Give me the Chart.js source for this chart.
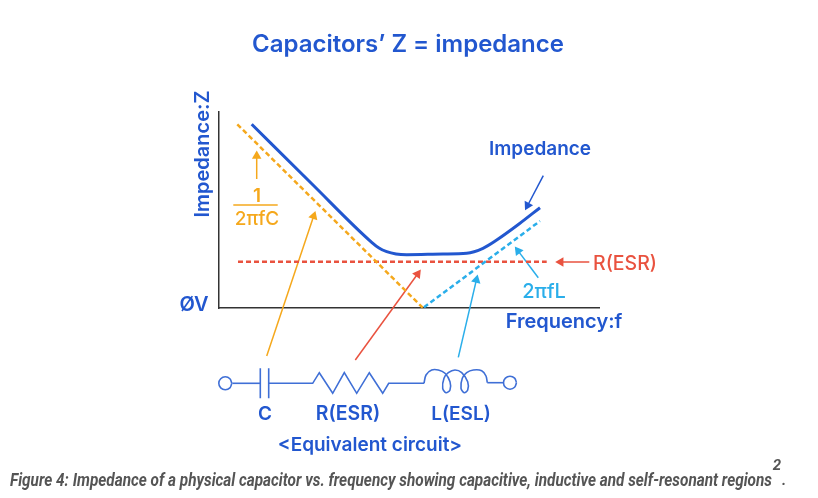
<!DOCTYPE html>
<html>
<head>
<meta charset="utf-8">
<style>
  html, body { margin: 0; padding: 0; background: #fff; }
  canvas { display: block; }
</style>
<script src="https://cdn.jsdelivr.net/npm/chart.js@4/dist/chart.umd.min.js"></script>
</head>
<body>
<canvas id="chart" width="818" height="498"></canvas>
<script>
// all series are [frequency, impedance] in axis units
const impedanceCurve = [[32.7,183.7],[92,125],[152.7,65.7],[160,60],[167.7,56.3],[177,54],[187.7,53.3],[224,54],[247.7,54.7],[264,59.7],[277.7,68],[300,84],[321,100.3]];
const capacitive = [[18.3,183.7],[203.7,0.3]];
const inductive = [[205,0.7],[321,87]];
const esr = [[19,46.2],[327.7,46.2]];
const fractionBar = [[14.3,103],[58.7,103]];

const arrowCap = [[37.7,129],[37.7,152]];
const arrowCapLong = [[47.7,-48],[94.7,91.9]];
const arrowEsr = [[136.3,-52],[198.6,34]];
const arrowInd = [[239.3,-49.3],[257.4,28.1]];
const arrowImp = [[324.3,132.3],[308.6,102.5]];
const arrowEsrSide = [[370.3,46],[341.7,46]];
const arrowIndSide = [[319.3,30.3],[299.1,57.1]];

const wireLeft = [[13.3,-75.3],[41,-75.3]];
const plateA = [[41.3,-60.3],[41.3,-90.3]];
const plateB = [[49.7,-60.3],[49.7,-90.3]];
const resistor = [[49.7,-75.3],[93.7,-75.3],[100.3,-64.7],[113.7,-85.3],[125.3,-64.7],[137.7,-85.3],[150.3,-64.7],[163.7,-85.3],[169.7,-75.3],[205,-75.3]];
const inductor = [[205,-75.3],[207,-67],[212.7,-62],[219.3,-62],[226,-65.3],[231,-73.7],[231,-82],[227,-84.7],[223.7,-80.3],[225,-70.3],[229.3,-64.7],[236,-62],[242.7,-64.7],[248.7,-73.7],[248.7,-82],[245.3,-84.7],[242,-80.3],[243.3,-70.3],[247.7,-64.7],[254.3,-62],[262.7,-62.7],[267,-68],[268.3,-74.7]];
const wireRight = [[268.3,-74.7],[284.3,-74.7]];
const terminalLeft = [[12.8,-75.3],[10.9,-70.7],[6.3,-68.8],[1.7,-70.7],[-0.2,-75.3],[1.7,-79.9],[6.3,-81.8],[10.9,-79.9],[12.8,-75.3]];
const terminalRight = [[297.5,-74.7],[295.6,-70.1],[291,-68.2],[286.4,-70.1],[284.5,-74.7],[286.4,-79.3],[291,-81.2],[295.6,-79.3],[297.5,-74.7]];

const BLUE = '#2257cf';
const ORANGE = '#f5a81c';
const RED = '#e9523f';
const CYAN = '#2aaeea';
const WIRE = '#3f6fd6';
const FONT = 'Inter, "Noto Sans", sans-serif';

function toXY(pairs) {
  return pairs.map(p => ({ x: p[0], y: p[1] }));
}

function line(pairs, color, width, extra) {
  return Object.assign({
    data: toXY(pairs),
    borderColor: color,
    backgroundColor: color,
    borderWidth: width,
    pointRadius: 0,
    fill: false,
    clip: false,
    order: 1
  }, extra || {});
}

function arrow(pairs, color) {
  const dx = pairs[1][0] - pairs[0][0];
  const dy = pairs[1][1] - pairs[0][1];
  return line(pairs, color, 1.5, {
    pointStyle: 'triangle',
    pointRadius: [0, 5.5],
    pointBorderWidth: 0,
    pointRotation: Math.atan2(dx, dy) * 180 / Math.PI
  });
}

const labels = [
  { text: 'Capacitors\u2019 Z = impedance', x: 408, y: 45, font: '600 24px ' + FONT, color: BLUE },
  { text: 'Impedance:Z', x: 203, y: 154, font: '600 20px ' + FONT, color: BLUE, rotate: -90 },
  { text: '\u00D8V', x: 194, y: 305, font: '600 20px ' + FONT, color: BLUE },
  { text: 'Frequency:f', x: 564, y: 322, font: '600 20px ' + FONT, color: BLUE },
  { text: 'Impedance', x: 540, y: 149, font: '600 19px ' + FONT, color: BLUE },
  { text: '1', x: 257, y: 196, font: '600 19px ' + FONT, color: ORANGE },
  { text: '2\u03C0fC', x: 257, y: 219, font: '500 19px ' + FONT, color: ORANGE },
  { text: 'R(ESR)', x: 625, y: 264, font: '500 19.5px ' + FONT, color: RED },
  { text: '2\u03C0fL', x: 544, y: 292, font: '500 20px ' + FONT, color: CYAN },
  { text: 'C', x: 265, y: 414, font: '600 19px ' + FONT, color: BLUE },
  { text: 'R(ESR)', x: 348, y: 414, font: '600 19.5px ' + FONT, color: BLUE },
  { text: 'L(ESL)', x: 461, y: 414, font: '600 19px ' + FONT, color: BLUE },
  { text: '<Equivalent circuit>', x: 370, y: 445, font: '600 19px ' + FONT, color: BLUE },
  { text: 'Figure 4: Impedance of a physical capacitor vs. frequency showing capacitive, inductive and self-resonant regions', x: 10, y: 481, font: 'italic 700 18px Roboto', color: '#555', align: 'left', maxWidth: 762 },
  { text: '2', x: 777, y: 466, font: 'italic 700 15px Roboto', color: '#555' },
  { text: '.', x: 784, y: 481, font: 'italic 700 15px Roboto', color: '#555' }
];

const textPlugin = {
  id: 'textLabels',
  afterDraw(chart) {
    const ctx = chart.ctx;
    labels.forEach(l => {
      ctx.save();
      ctx.translate(l.x, l.y);
      if (l.rotate) ctx.rotate(l.rotate * Math.PI / 180);
      ctx.font = l.font;
      ctx.fillStyle = l.color;
      ctx.textAlign = l.align || 'center';
      ctx.textBaseline = 'middle';
      if (l.maxWidth) ctx.fillText(l.text, 0, 0, l.maxWidth);
      else ctx.fillText(l.text, 0, 0);
      ctx.restore();
    });
  }
};

new Chart(document.getElementById('chart'), {
  type: 'line',
  data: {
    datasets: [
      line(capacitive, ORANGE, 2.5, { borderDash: [5, 3] }),
      line(inductive, CYAN, 2.5, { borderDash: [5, 3] }),
      line(esr, RED, 2.5, { borderDash: [5, 3] }),
      line(impedanceCurve, BLUE, 3, { cubicInterpolationMode: 'monotone' }),
      line(fractionBar, ORANGE, 1.5),
      arrow(arrowCap, ORANGE),
      arrow(arrowCapLong, ORANGE),
      arrow(arrowEsr, RED),
      arrow(arrowInd, CYAN),
      arrow(arrowImp, BLUE),
      arrow(arrowEsrSide, RED),
      arrow(arrowIndSide, CYAN),
      line(wireLeft, WIRE, 1.6),
      line(plateA, WIRE, 1.6),
      line(plateB, WIRE, 1.6),
      line(resistor, WIRE, 1.6),
      line(inductor, WIRE, 1.6, { tension: 0.3 }),
      line(wireRight, WIRE, 1.6),
      line(terminalLeft, WIRE, 1.6, { tension: 0.4 }),
      line(terminalRight, WIRE, 1.6, { tension: 0.4 })
    ]
  },
  options: {
    responsive: false,
    animation: false,
    layout: { padding: { left: 219, right: 219, top: 112, bottom: 190 } },
    plugins: { legend: { display: false }, tooltip: { enabled: false } },
    scales: {
      x: {
        type: 'linear', min: 0, max: 380,
        grid: { display: false, drawTicks: false },
        ticks: { display: false },
        border: { color: '#333', width: 1.5 }
      },
      y: {
        type: 'linear', min: 0, max: 196,
        grid: { display: false, drawTicks: false },
        ticks: { display: false },
        border: { color: '#333', width: 1.5 }
      }
    }
  },
  plugins: [textPlugin]
});
</script>
</body>
</html>
